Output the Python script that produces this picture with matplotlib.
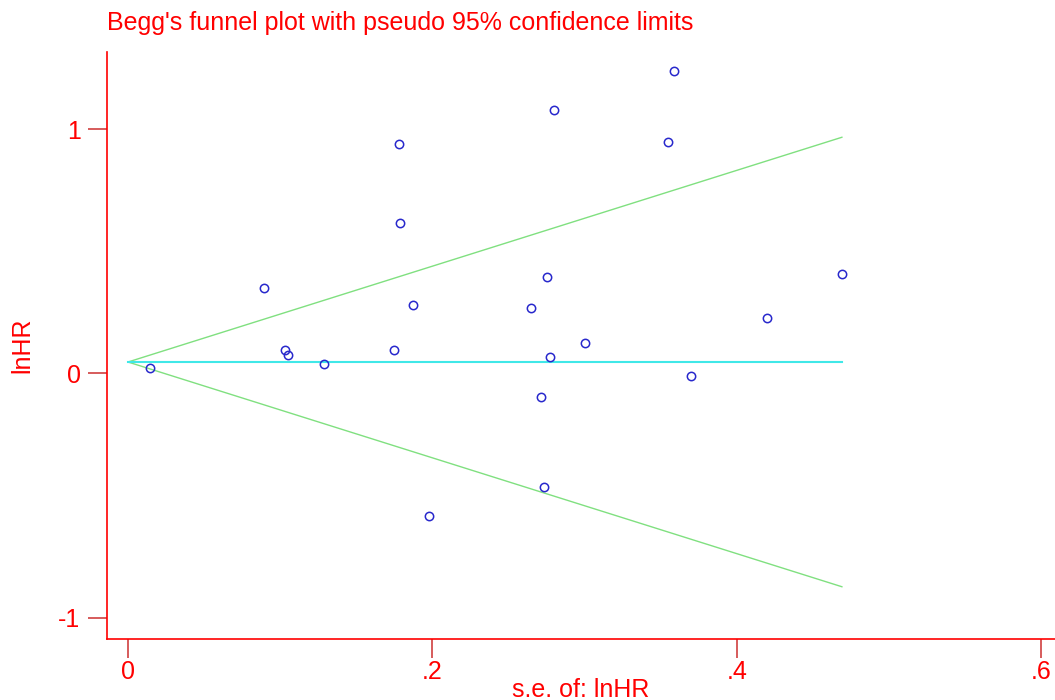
import matplotlib
matplotlib.use("Agg")
import matplotlib.pyplot as plt
import numpy as np

plt.rcParams['font.family'] = ['Liberation Sans', 'DejaVu Sans']

# study data
se_lnhr = [0.0145, 0.0894, 0.103, 0.105, 0.129, 0.178, 0.179, 0.175, 0.187,
           0.198, 0.280, 0.359, 0.355, 0.275, 0.265, 0.277, 0.300, 0.271,
           0.273, 0.370, 0.420, 0.469]
lnhr = [0.022, 0.350, 0.096, 0.076, 0.039, 0.939, 0.616, 0.096, 0.280,
        -0.583, 1.078, 1.237, 0.945, 0.395, 0.268, 0.068, 0.125, -0.096,
        -0.464, -0.010, 0.227, 0.407]
pooled = 0.047

x_ticks = [0, 0.2, 0.4, 0.6]
x_labels = ['0', '.2', '.4', '.6']
y_ticks = [-1, 0, 1]
y_labels = ['-1', '0', '1']

red = '#ff0000'

fig = plt.figure(figsize=(10.55, 7), dpi=100)
ax = fig.add_axes([107 / 1055, 61 / 700, 948 / 1055, 587 / 700])

se_max = max(se_lnhr)
xs = np.array([0, se_max])
ax.plot(xs, pooled + 1.96 * xs, color='#80e080', lw=1)
ax.plot(xs, pooled - 1.96 * xs, color='#80e080', lw=1)
ax.plot(xs, [pooled, pooled], color='#40e8e8', lw=1.5)
ax.plot(se_lnhr, lnhr, 'o', mfc='none', mec='#2828cc', ms=6, mew=1.1)

ax.set_xlim(-0.0138, 0.609)
ax.set_ylim(-1.086, 1.315)
ax.set_xticks(x_ticks)
ax.set_xticklabels(x_labels)
ax.set_yticks(y_ticks)
ax.set_yticklabels(y_labels)

for s in ['top', 'right']:
    ax.spines[s].set_visible(False)
for s in ['left', 'bottom']:
    ax.spines[s].set_color(red)
    ax.spines[s].set_linewidth(1.2)

ax.tick_params(axis='both', colors='#d04040', labelcolor=red, length=14,
               width=1.2, labelsize=18)
ax.tick_params(axis='x', pad=1)
ax.tick_params(axis='y', pad=5)

fig.text(581 / 1055, 1 - 697 / 700, 's.e. of: lnHR', color=red, fontsize=18,
         ha='center', va='baseline')
fig.text(22 / 1055, 1 - 345 / 700, 'lnHR', color=red, fontsize=18,
         ha='center', va='center', rotation=90)

fig.text(107 / 1055, 1 - 30 / 700, "Begg's funnel plot with pseudo 95% confidence limits",
         color=red, fontsize=18, ha='left', va='baseline')

fig.savefig('out.png', dpi=100)
